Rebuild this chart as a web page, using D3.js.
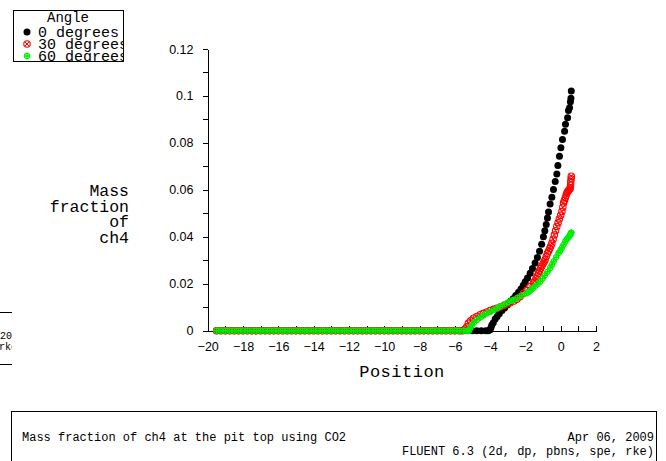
<!DOCTYPE html>
<html>
<head>
<meta charset="utf-8">
<script src="https://cdn.jsdelivr.net/npm/d3@7"></script>
<style>
  body { margin: 0; background: #fff; }
  svg { display: block; font-family: "Liberation Mono", "DejaVu Sans Mono", monospace; }
  .axis path, .axis line { stroke: #000; stroke-width: 1; shape-rendering: crispEdges; }
  .axis text { font-size: 12.5px; fill: #000; }
</style>
</head>
<body>
<svg id="chart" width="666" height="461"></svg>
<script>
// positions along the pit top where all three cases are still zero
const flatPos = [-19.5, -19.25, -19.0, -18.75, -18.5, -18.25, -18.0, -17.75, -17.5, -17.25,
  -17.0, -16.75, -16.5, -16.25, -16.0, -15.75, -15.5, -15.25, -15.0, -14.75, -14.5, -14.25,
  -14.0, -13.75, -13.5, -13.25, -13.0, -12.75, -12.5, -12.25, -12.0, -11.75, -11.5, -11.25,
  -11.0, -10.75, -10.5, -10.25, -10.0, -9.75, -9.5, -9.25, -9.0, -8.75, -8.5, -8.25, -8.0,
  -7.75, -7.5, -7.25, -7.0, -6.75, -6.5, -6.25, -6.0, -5.75];

// 0 degrees
const deg0X = [-5.5, -5.25, -5.0, -4.75, -4.5, -4.25, -4.10, -4.00, -3.95, -3.90, -3.82, -3.71,
  -3.60, -3.48, -3.33, -3.18, -3.02, -2.86, -2.70, -2.55, -2.39, -2.25, -2.12, -2.01, -1.88,
  -1.73, -1.60, -1.45, -1.32, -1.20, -1.08, -0.98, -0.90, -0.82, -0.75, -0.69, -0.60, -0.50,
  -0.41, -0.31, -0.22, -0.16, -0.07, 0.01, 0.10, 0.22, 0.27, 0.39, 0.44, 0.50, 0.55, 0.58, 0.60];
const deg0Y = [0, 0, 0, 0, 0, 0, 0, 0.0004, 0.0014, 0.0024, 0.0034, 0.0050,
  0.0060, 0.0072, 0.0086, 0.0097, 0.0110, 0.0124, 0.0136, 0.0150, 0.0164, 0.0178, 0.0194, 0.0208, 0.0225,
  0.0245, 0.0265, 0.0288, 0.0312, 0.0338, 0.0368, 0.0400, 0.0426, 0.0452, 0.0480, 0.0506, 0.0540, 0.0568,
  0.0601, 0.0636, 0.0668, 0.0704, 0.0743, 0.0779, 0.0815, 0.0850, 0.0879, 0.0907, 0.0938, 0.0950, 0.0975, 0.0990, 0.1021];

// 30 degrees
const deg30X = [-5.60, -5.50, -5.42, -5.32, -5.23, -5.10, -4.94, -4.75, -4.56, -4.38, -4.18, -4.00,
  -3.80, -3.62, -3.40, -3.20, -3.02, -2.86, -2.65, -2.48, -2.30, -2.12, -1.92, -1.73, -1.54,
  -1.47, -1.40, -1.33, -1.26, -1.20, -1.14, -1.07, -1.00, -0.94, -0.88, -0.82, -0.75, -0.68,
  -0.62, -0.56, -0.50, -0.43, -0.36, -0.29, -0.22, -0.15, -0.08, 0.00, 0.07, 0.12, 0.16, 0.21,
  0.26, 0.31, 0.35, 0.40, 0.45, 0.50, 0.54, 0.56, 0.57, 0.59, 0.60];
const deg30Y = [0, 0.0002, 0.0007, 0.0017, 0.0032, 0.0042, 0.0053, 0.0061, 0.0068, 0.0074, 0.0080, 0.0086,
  0.0091, 0.0096, 0.0102, 0.0108, 0.0114, 0.0119, 0.0126, 0.0134, 0.0145, 0.0158, 0.0172, 0.0188, 0.0204,
  0.0212, 0.0222, 0.0233, 0.0245, 0.0255, 0.0265, 0.0275, 0.0285, 0.0293, 0.0302, 0.0316, 0.0330, 0.0340,
  0.0350, 0.0361, 0.0373, 0.0390, 0.0408, 0.0426, 0.0444, 0.0460, 0.0476, 0.0492, 0.0508, 0.0526, 0.0544, 0.0555,
  0.0566, 0.0577, 0.0587, 0.0593, 0.0598, 0.0603, 0.0608, 0.0620, 0.0635, 0.0647, 0.0658];

// 60 degrees
const deg60X = [-5.50, -5.30, -5.20, -5.13, -5.03, -4.90, -4.75, -4.55, -4.38, -4.18, -4.00, -3.80,
  -3.60, -3.43, -3.20, -3.00, -2.80, -2.68, -2.45, -2.20, -1.92, -1.80, -1.70, -1.58, -1.45,
  -1.30, -1.16, -1.03, -0.90, -0.75, -0.60, -0.50, -0.40, -0.26, -0.12, -0.03, 0.06, 0.16,
  0.26, 0.35, 0.44, 0.50, 0.55, 0.58, 0.60];
const deg60Y = [0, 0, 0, 0.0010, 0.0024, 0.0036, 0.0046, 0.0056, 0.0065, 0.0074, 0.0080, 0.0088,
  0.0096, 0.0103, 0.0112, 0.0120, 0.0127, 0.0131, 0.0140, 0.0150, 0.0160, 0.0166, 0.0172, 0.0180, 0.0190,
  0.0199, 0.0209, 0.0222, 0.0236, 0.0251, 0.0267, 0.0281, 0.0295, 0.0313, 0.0331, 0.0341, 0.0352, 0.0366,
  0.0380, 0.0390, 0.0398, 0.0404, 0.0410, 0.0414, 0.0418];

const seriesNames = ["0 degrees", "30 degrees", "60 degrees"];
const seriesColors = ["#000000", "#ff0000", "#00ee00"];
const xTicks = [-20, -18, -16, -14, -12, -10, -8, -6, -4, -2, 0, 2];
const yTicks = [0, 0.02, 0.04, 0.06, 0.08, 0.1, 0.12];

const svg = d3.select("#chart");
svg.append("rect").attr("width", 666).attr("height", 461).attr("fill", "#fff");

const x = d3.scaleLinear().domain([-20, 2]).range([207.7, 596]);
const y = d3.scaleLinear().domain([0, 0.12]).range([330.7, 49]);

// y axis: minor then major
svg.append("g").attr("class", "axis")
  .attr("transform", "translate(207.5,0)")
  .call(d3.axisLeft(y).tickValues(d3.range(0, 0.1201, 0.01)).tickSize(5).tickFormat("").tickSizeOuter(0));
svg.append("g").attr("class", "axis")
  .attr("transform", "translate(207.5,0)")
  .call(d3.axisLeft(y).tickValues(yTicks).tickSize(5).tickPadding(9).tickSizeOuter(0)
    .tickFormat(d => d === 0 ? "0" : String(+d.toFixed(2))));

// x axis, ticks pointing up into the plot
svg.append("g").attr("class", "axis")
  .attr("transform", "translate(0,330.5)")
  .call(d3.axisBottom(x).tickValues(d3.range(-20, 2.01, 1)).tickSize(-5).tickFormat("").tickSizeOuter(0));
svg.append("g").attr("class", "axis")
  .attr("transform", "translate(0,330.5)")
  .call(d3.axisBottom(x).tickValues(xTicks).tickSize(-5).tickPadding(12).tickSizeOuter(0))
  .selectAll("text").attr("dy", "0.71em");

// axis titles
svg.append("text")
  .attr("x", 402).attr("y", 377)
  .attr("text-anchor", "middle")
  .style("font-size", "17px").style("letter-spacing", "0.5px")
  .text("Position");

const yTitle = ["Mass", "fraction", "of", "ch4"];
svg.append("g").selectAll("text")
  .data(yTitle).join("text")
  .attr("x", 129)
  .attr("y", (d, i) => 196 + i * 15.5)
  .attr("text-anchor", "end")
  .style("font-size", "16.5px")
  .text(d => d);

// marker symbols
function drawMarker(g, idx, color) {
  const r = 3.2;
  if (idx === 0) {
    g.append("circle").attr("r", r + 0.3).attr("fill", color);
  } else if (idx === 1) {
    g.append("circle").attr("r", r).attr("fill", "none").attr("stroke", color).attr("stroke-width", 1.1);
    g.append("path").attr("d", `M${-r*0.7},${-r*0.7}L${r*0.7},${r*0.7}M${-r*0.7},${r*0.7}L${r*0.7},${-r*0.7}`)
      .attr("stroke", color).attr("stroke-width", 1);
  } else {
    g.append("circle").attr("r", r - 0.6).attr("fill", "none").attr("stroke", color).attr("stroke-width", 1.1);
    g.append("path").attr("d", `M${-r},0H${r}M0,${-r}V${r}`)
      .attr("stroke", color).attr("stroke-width", 1.4);
  }
}

const seriesData = [
  flatPos.map(p => [p, 0]).concat(deg0X.map((p, i) => [p, deg0Y[i]])),
  flatPos.map(p => [p, 0]).concat(deg30X.map((p, i) => [p, deg30Y[i]])),
  flatPos.map(p => [p, 0]).concat(deg60X.map((p, i) => [p, deg60Y[i]]))
];

seriesData.forEach((pts, si) => {
  const grp = svg.append("g");
  grp.selectAll("g").data(pts).join("g")
    .attr("transform", d => `translate(${x(d[0])},${y(d[1])})`)
    .each(function() { drawMarker(d3.select(this), si, seriesColors[si]); });
});

// legend
const leg = svg.append("g");
leg.append("clipPath").attr("id", "legClip")
  .append("rect").attr("x", 13).attr("y", 10).attr("width", 111).attr("height", 52);
leg.append("rect").attr("x", 13.5).attr("y", 10.5).attr("width", 110).attr("height", 51)
  .attr("fill", "#fff").attr("stroke", "#000");
const legBody = leg.append("g").attr("clip-path", "url(#legClip)");
legBody.append("text").attr("x", 68).attr("y", 22).attr("text-anchor", "middle")
  .style("font-size", "14px").text("Angle");
seriesNames.forEach((name, i) => {
  const mg = legBody.append("g").attr("transform", `translate(27,${32 + i * 12})`);
  drawMarker(mg, i, seriesColors[i]);
  legBody.append("text").attr("x", 38).attr("y", 37 + i * 12)
    .style("font-size", "15px").text(name);
});

// clipped info box at left edge
const side = svg.append("g");
side.append("clipPath").attr("id", "sideClip")
  .append("rect").attr("x", 0).attr("y", 300).attr("width", 12).attr("height", 80);
side.append("line").attr("x1", 0).attr("x2", 12).attr("y1", 312.5).attr("y2", 312.5).attr("stroke", "#000");
side.append("line").attr("x1", 0).attr("x2", 12).attr("y1", 364.5).attr("y2", 364.5).attr("stroke", "#000");
const sideText = side.append("g").attr("clip-path", "url(#sideClip)");
sideText.append("text").attr("x", 24).attr("y", 339).attr("text-anchor", "end")
  .style("font-size", "10px").text("Apr 06, 2009");
sideText.append("text").attr("x", 23).attr("y", 350).attr("text-anchor", "end")
  .style("font-size", "10px").text("FLUENT 6.3 (2d, dp, pbns, spe, rke)");

// bottom info box
svg.append("rect").attr("x", 11.5).attr("y", 411.5).attr("width", 645).attr("height", 60)
  .attr("fill", "none").attr("stroke", "#000");
svg.append("text").attr("x", 22).attr("y", 441)
  .style("font-size", "12px").text("Mass fraction of ch4 at the pit top using CO2");
svg.append("text").attr("x", 654).attr("y", 441).attr("text-anchor", "end")
  .style("font-size", "12px").text("Apr 06, 2009");
svg.append("text").attr("x", 654).attr("y", 455).attr("text-anchor", "end")
  .style("font-size", "12px").text("FLUENT 6.3 (2d, dp, pbns, spe, rke)");
</script>
</body>
</html>
